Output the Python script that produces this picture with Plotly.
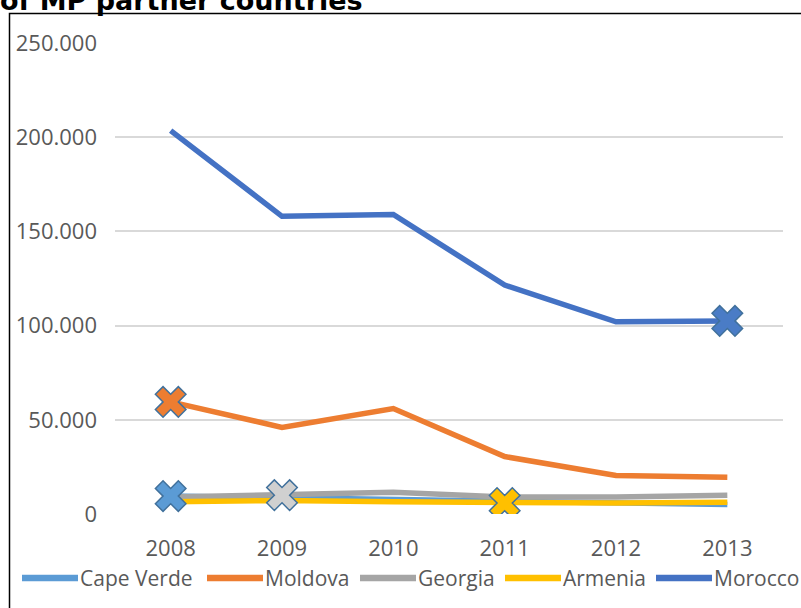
import plotly.graph_objects as go

years = ["2008", "2009", "2010", "2011", "2012", "2013"]
series_names = ["Cape Verde", "Moldova", "Georgia", "Armenia", "Morocco"]
cape_verde = [9500, 8500, 7500, 6500, 5800, 5000]
moldova = [59500, 46000, 56000, 30500, 20500, 19500]
georgia = [9000, 10000, 11500, 9000, 9000, 10000]
armenia = [6500, 7200, 6500, 5800, 5800, 6200]
morocco = [203500, 158000, 159000, 121500, 102000, 102500]
marked_year = ["2008", "2008", "2009", "2011", "2013"]
y_ticks = [0, 50000, 100000, 150000, 200000, 250000]
title_text = "of MP partner countries"

values = [cape_verde, moldova, georgia, armenia, morocco]
line_colors = ["#5B9BD5", "#ED7D31", "#A5A5A5", "#FFC000", "#4472C4"]
marker_fill = ["#5B9BD5", "#ED7D31", "#D0D0D0", "#FFC000", "#4A7CC6"]

W, H = 801, 608
L, R, T, B = 115, 18, 43, 94
pw, ph = W - L - R, H - T - B

def px_x(x):
    return (x - L) / pw

def px_y(y):
    return (H - B - y) / ph

fig = go.Figure()
for name, vals, col in zip(series_names, values, line_colors):
    fig.add_trace(go.Scatter(x=years, y=vals, mode="lines", name=name,
                             line=dict(color=col, width=5.5), showlegend=False))
for name, vals, col, yr in zip(series_names, values, marker_fill, marked_year):
    i = years.index(yr)
    fig.add_trace(go.Scatter(x=[years[i]], y=[vals[i]], mode="markers", name=name,
                             marker=dict(symbol="x", size=27, color=col,
                                         line=dict(color="#41719C", width=1.5)),
                             showlegend=False))

font_family = "Open Sans"
tick_font = dict(family=font_family, size=22, color="#595959")
legend_font = dict(family=font_family, size=21, color="#595959")

# custom legend
legend_line_x = [22, 207, 360, 505, 656]
legend_len = 56
legend_y = 578
shapes = []
annotations = []
for name, col, x0 in zip(series_names, line_colors, legend_line_x):
    shapes.append(dict(type="line", xref="paper", yref="paper",
                       x0=px_x(x0), x1=px_x(x0 + legend_len),
                       y0=px_y(legend_y), y1=px_y(legend_y),
                       line=dict(color=col, width=6.5)))
    annotations.append(dict(text=name, xref="paper", yref="paper",
                            x=px_x(x0 + legend_len), y=px_y(legend_y),
                            xanchor="left", yanchor="middle", showarrow=False,
                            font=legend_font))

# outer frame
shapes.append(dict(type="rect", xref="paper", yref="paper",
                   x0=px_x(9.5), x1=px_x(W + 20), y0=px_y(H + 20), y1=px_y(13.5),
                   line=dict(color="black", width=1.5), fillcolor="rgba(0,0,0,0)"))

annotations.append(dict(text="<b>" + title_text + "</b>", xref="paper", yref="paper",
                        x=px_x(-2), y=px_y(18), xanchor="left", yanchor="bottom",
                        showarrow=False,
                        font=dict(family="DejaVu Sans", size=27, color="black")))

fig.update_layout(
    width=W, height=H, autosize=False,
    margin=dict(l=L, r=R, t=T, b=B, pad=0),
    paper_bgcolor="white", plot_bgcolor="white",
    separators=",.",
    shapes=shapes, annotations=annotations,
    showlegend=False,
    xaxis=dict(type="category", range=[-0.5, 5.5], showgrid=False, zeroline=False,
               showline=False, ticks="", tickfont=tick_font, ticklabelstandoff=19),
    yaxis=dict(range=[0, 250000], tickvals=y_ticks, tickformat=",d",
               showgrid=True, gridcolor="#D9D9D9", gridwidth=1.5, zeroline=False,
               showline=False, ticks="", tickfont=tick_font, ticklabelstandoff=17),
)

fig.write_html("out.html", config={"displayModeBar": False},
               post_script="document.body.style.margin='0px';document.body.style.overflow='hidden';")
